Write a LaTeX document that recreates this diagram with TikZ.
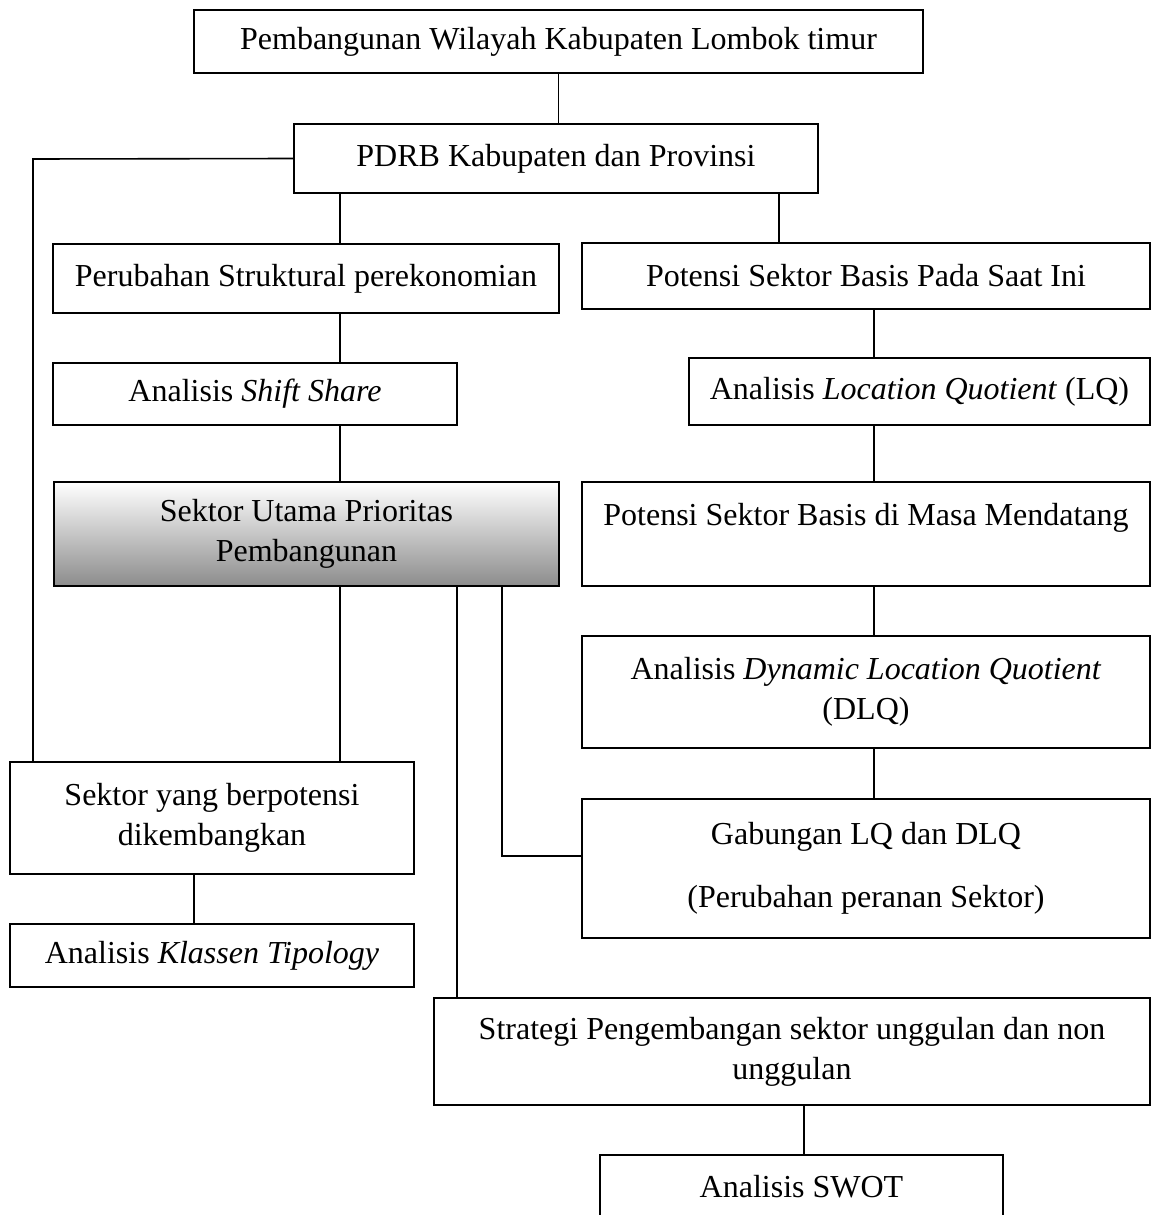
\documentclass[tikz,border=0pt]{standalone}
\usepackage{fontspec}
\setmainfont{Liberation Serif}
\usepackage{tikz}
\usetikzlibrary{positioning,calc}

\begin{document}
\begin{tikzpicture}[x=1pt,y=-1pt,
  font=\fontsize{32}{40}\selectfont,
  box/.style={draw, line width=1.6pt, align=center, inner sep=0pt},
  link/.style={line width=1.6pt}]
  \useasboundingbox (0,0) rectangle (1152,1215);
  % boxes
  \node[box, minimum width=729pt, minimum height=63pt] (top) at (558.5,41.5) {Pembangunan Wilayah Kabupaten Lombok timur};
  \node[box, minimum width=524pt, minimum height=69pt] (pdrb) at (556,158.5) {PDRB Kabupaten dan Provinsi};
  \node[box, minimum width=506pt, minimum height=69pt] (struktur) at (306,278.5) {Perubahan Struktural perekonomian};
  \node[box, minimum width=568pt, minimum height=66pt] (basisnow) at (866,276) {Potensi Sektor Basis Pada Saat Ini};
  \node[box, minimum width=404pt, minimum height=62pt] (shift) at (255,394) {Analisis \textit{Shift Share}};
  \node[box, minimum width=461pt, minimum height=67pt] (lq) at (919.5,391.5) {Analisis \textit{Location Quotient} (LQ)};
  \node[box, minimum width=505pt, minimum height=104pt, top color=white, bottom color=black!45] (prioritas) at (306.5,534) {Sektor Utama Prioritas\\Pembangunan};
  \node[box, minimum width=568pt, minimum height=104pt] (basisnext) at (866,534) {Potensi Sektor Basis di Masa Mendatang\\\mbox{}};
  \node[box, minimum width=568pt, minimum height=112pt] (dlq) at (866,692) {Analisis \textit{Dynamic Location Quotient}\\(DLQ)};
  \node[box, minimum width=404pt, minimum height=112pt] (potensi) at (212,818) {Sektor yang berpotensi\\dikembangkan};
  \node[box, minimum width=568pt, minimum height=139pt] (gabung) at (866,868.5) {Gabungan LQ dan DLQ\\[23pt](Perubahan peranan Sektor)};
  \node[box, minimum width=404pt, minimum height=63pt] (klassen) at (212,955.5) {Analisis \textit{Klassen Tipology}};
  \node[box, minimum width=716pt, minimum height=107pt] (strategi) at (792,1051.5) {Strategi Pengembangan sektor unggulan dan non\\unggulan};
  \node[box, minimum width=403pt, minimum height=64pt] (swot) at (801.5,1187) {Analisis SWOT};
  % connectors
  \coordinate (kiri) at (33,159);
  \coordinate (xa) at (340,0);
  \coordinate (xb) at (779,0);
  \coordinate (xc) at (874,0);
  \coordinate (xd) at (457,0);
  \coordinate (tekuk) at (502,856);
  \coordinate (xe) at (194,0);
  \coordinate (xf) at (804,0);
  \draw[link] (top.south) -- (top.south |- pdrb.north);
  \draw[link] (pdrb.west) -- (kiri) -- (kiri |- potensi.north);
  \draw[link] (pdrb.south -| xa) -- (struktur.north -| xa);
  \draw[link] (struktur.south -| xa) -- (shift.north -| xa);
  \draw[link] (shift.south -| xa) -- (prioritas.north -| xa);
  \draw[link] (prioritas.south -| xa) -- (potensi.north -| xa);
  \draw[link] (pdrb.south -| xb) -- (basisnow.north -| xb);
  \draw[link] (basisnow.south -| xc) -- (lq.north -| xc);
  \draw[link] (lq.south -| xc) -- (basisnext.north -| xc);
  \draw[link] (basisnext.south -| xc) -- (dlq.north -| xc);
  \draw[link] (dlq.south -| xc) -- (gabung.north -| xc);
  \draw[link] (prioritas.south -| xd) -- (strategi.north -| xd);
  \draw[link] (prioritas.south -| tekuk) -- (tekuk) -- (tekuk -| gabung.west);
  \draw[link] (potensi.south -| xe) -- (klassen.north -| xe);
  \draw[link] (strategi.south -| xf) -- (swot.north -| xf);
\end{tikzpicture}
\end{document}
